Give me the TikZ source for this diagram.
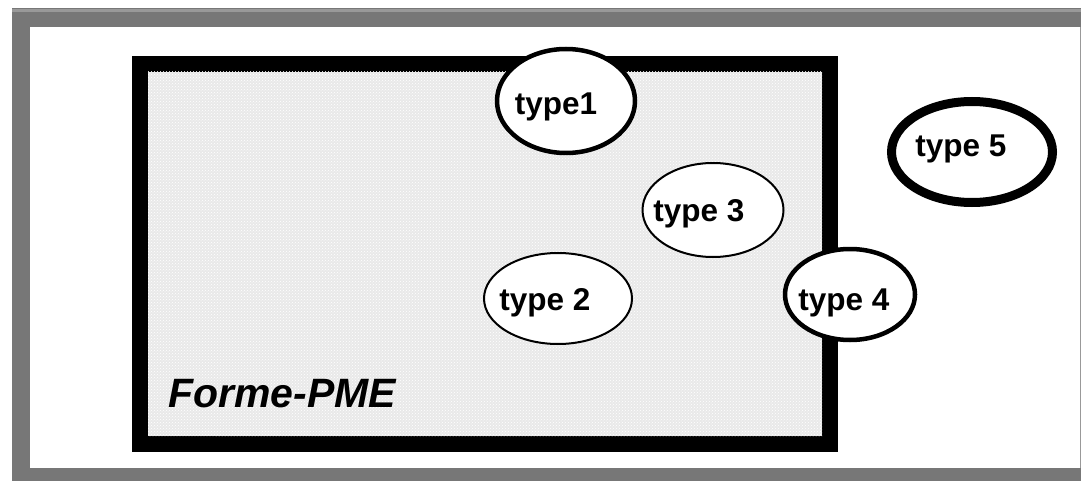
\documentclass[tikz,border=0pt]{standalone}
\usepackage{fontspec}
\setmainfont{Liberation Sans}
\usetikzlibrary{shapes.geometric,patterns}
\definecolor{framegray}{HTML}{777777}
\definecolor{framelight}{HTML}{999999}
\definecolor{boxfill}{HTML}{E9E9E9}
\tikzset{
  oval/.style={ellipse, draw=black, fill=white, inner sep=0pt},
  lbl/.style={font=\fontsize{31.5}{38}\selectfont\bfseries, inner sep=0pt, anchor=base},
}
\begin{document}
\begin{tikzpicture}[x=1pt,y=-1pt]
\useasboundingbox (0,0) rectangle (1081,481);
% page frame
\fill[framegray] (12,8) rectangle (1081,481);
\fill[framelight] (12,9) rectangle (1081,12);
\fill[white] (30,27) rectangle (1081,468);
\draw[framelight, line width=1pt] (1080,27) -- (1080,468);
% main box
\node[draw=black, line width=16pt, fill=boxfill, minimum width=690.5pt, minimum height=380pt, inner sep=0pt] (box) at (484.75,254) {};
\fill[pattern=crosshatch dots, pattern color=white] (148,72) rectangle (822,436);
\node[font=\fontsize{41}{49}\selectfont\bfseries\itshape, inner sep=0pt, anchor=base west] (forme) at (168,407) {Forme-PME};
% ovals
\node[oval, line width=4.5pt, minimum width=138pt, minimum height=104pt] (o1) at (566,101) {};
\node[lbl] (t1) at (556,115) {type1};
\node[oval, line width=2pt, minimum width=141pt, minimum height=94pt] (o3) at (713,210) {};
\node[lbl] (t3) at (699,222) {type 3};
\node[oval, line width=2pt, minimum width=148pt, minimum height=91pt] (o2) at (558,298.5) {};
\node[lbl] (t2) at (545,310) {type 2};
\node[oval, line width=4.5pt, minimum width=130pt, minimum height=91pt] (o4) at (850,294.5) {};
\node[lbl] (t4) at (844,310) {type 4};
\node[oval, line width=9pt, minimum width=161pt, minimum height=101pt] (o5) at (972,152) {};
\node[lbl] (t5) at (961,157) {type 5};
\end{tikzpicture}
\end{document}
